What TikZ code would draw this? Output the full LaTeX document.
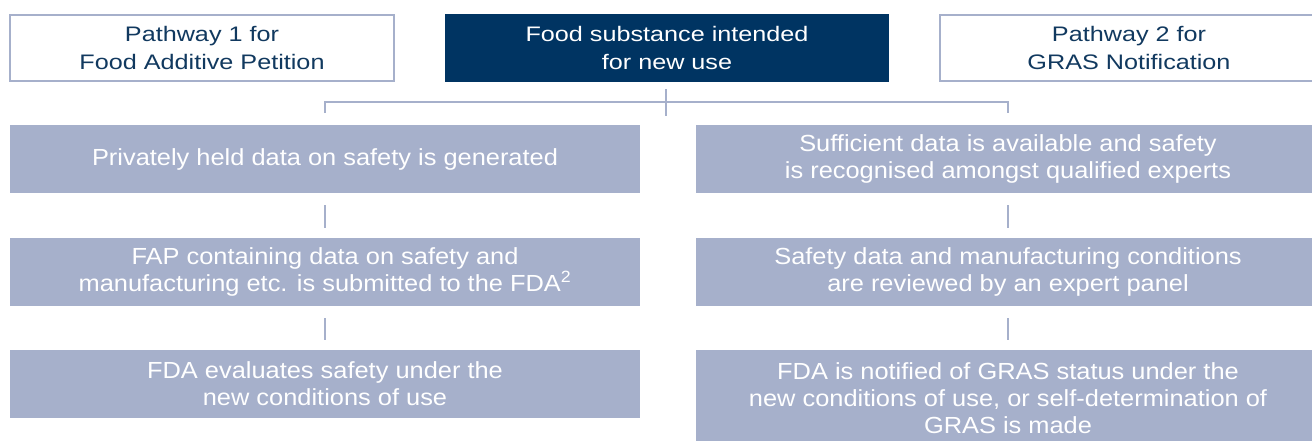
\documentclass[tikz,border=0pt]{standalone}
\usepackage{fontspec}
\setmainfont{Liberation Sans}
\newfontfamily\headfont[FakeStretch=1.2]{Liberation Sans}
\newfontfamily\condfont[FakeStretch=1.09]{Liberation Sans}
\definecolor{navy}{HTML}{003462}
\definecolor{navytext}{HTML}{11395F}
\definecolor{greyblue}{HTML}{A6B0CB}
\begin{document}
\begin{tikzpicture}[x=1pt,y=-1pt,
  headbox/.style={draw=greyblue, line width=2pt, fill=white, text=navytext, align=center,
    font=\headfont\fontsize{21}{28}\selectfont, inner sep=0pt},
  mainbox/.style={fill=navy, text=white, align=center, font=\headfont\fontsize{21}{28}\selectfont, inner sep=0pt},
  stepbox/.style={fill=greyblue, text=white, align=center, font=\condfont\fontsize{23.3}{27}\selectfont, inner sep=0pt},
  conn/.style={draw=greyblue, line width=2pt}]
\useasboundingbox (0,0) rectangle (1312,440);
% top row
\node[headbox, minimum width=384pt, minimum height=66pt] (p1) at (202,47.5) {Pathway 1 for\\Food Additive Petition};
\node[mainbox, minimum width=444pt, minimum height=68pt] (fs) at (667,48) {Food substance intended\\for new use};
\node[headbox, minimum width=378pt, minimum height=66pt] (p2) at (1129,47.5) {Pathway 2 for\\GRAS Notification};
% left column
\node[stepbox, minimum width=630pt, minimum height=68pt] (l1) at (325,159) {Privately held data on safety is generated};
\node[stepbox, minimum width=630pt, minimum height=68pt] (l2) at (325,272) {FAP containing data on safety and\\manufacturing etc. is submitted to the FDA\textsuperscript{2}};
\node[stepbox, minimum width=630pt, minimum height=68pt] (l3) at (325,384) {FDA evaluates safety under the\\new conditions of use};
% right column
\node[stepbox, minimum width=624pt, minimum height=68pt] (r1) at (1008,159) {Sufficient data is available and safety\\is recognised amongst qualified experts};
\node[stepbox, minimum width=624pt, minimum height=68pt] (r2) at (1008,272) {Safety data and manufacturing conditions\\are reviewed by an expert panel};
\node[stepbox, minimum width=624pt, minimum height=96pt, text depth=0pt] (r3) at (1008,398) {FDA is notified of GRAS status under the\\new conditions of use, or self-determination of\\GRAS is made};
% branching connector
\coordinate (ct) at (666,89);
\coordinate (cb) at (666,116);
\coordinate (hl) at (325,102);
\coordinate (hr) at (1008,102);
\coordinate (sl) at (325,113);
\coordinate (sr) at (1008,113);
\draw[conn] (ct) -- (cb);
\draw[conn] (sl) -- (hl) -- (hr) -- (sr);
% vertical connectors
\draw[conn, shorten <=12pt, shorten >=10pt] (l1.south) -- (l2.north);
\draw[conn, shorten <=12pt, shorten >=10pt] (l2.south) -- (l3.north);
\draw[conn, shorten <=12pt, shorten >=10pt] (r1.south) -- (r2.north);
\draw[conn, shorten <=12pt, shorten >=10pt] (r2.south) -- (r3.north);
\end{tikzpicture}
\end{document}
